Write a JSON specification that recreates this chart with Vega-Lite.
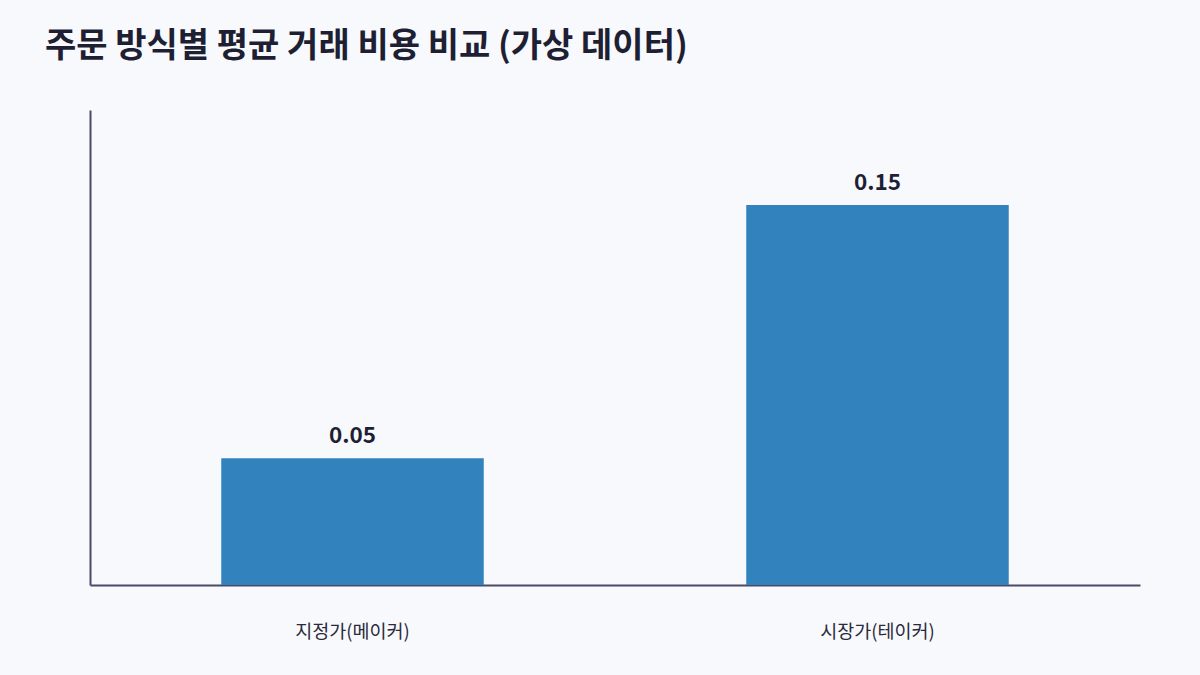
{
  "$schema": "https://vega.github.io/schema/vega-lite/v6.json",
  "width": 1050,
  "height": 475,
  "autosize": {"type": "none"},
  "padding": {"left": 90, "top": 110, "right": 60, "bottom": 90},
  "background": "#f8f9fd",
  "title": {
    "text": "주문 방식별 평균 거래 비용 비교 (가상 데이터)",
    "anchor": "start",
    "frame": "group",
    "dx": -45,
    "offset": 46,
    "font": "Noto Sans CJK KR",
    "fontSize": 34,
    "fontWeight": "bold",
    "color": "#1f1f33"
  },
  "data": {
    "values": [
      {"order_type": "지정가(메이커)", "fee": 0.05},
      {"order_type": "시장가(테이커)", "fee": 0.15}
    ]
  },
  "encoding": {
    "x": {
      "field": "order_type",
      "type": "nominal",
      "sort": null,
      "title": null,
      "scale": {"paddingInner": 0.5, "paddingOuter": 0.25},
      "axis": {
        "labelAngle": 0,
        "ticks": false,
        "labelPadding": 37,
        "labelFont": "Noto Sans CJK KR",
        "labelFontSize": 18.5,
        "labelColor": "#2a2a3a",
        "domainColor": "#4a4a68",
        "domainWidth": 2
      }
    },
    "y": {
      "field": "fee",
      "type": "quantitative",
      "title": null,
      "scale": {"domain": [0, 0.1875], "nice": false},
      "axis": {
        "labels": false,
        "ticks": false,
        "grid": false,
        "domainColor": "#4a4a68",
        "domainWidth": 2
      }
    }
  },
  "layer": [
    {"mark": {"type": "bar", "color": "#3182bd"}},
    {
      "mark": {
        "type": "text",
        "baseline": "bottom",
        "dy": -10,
        "font": "Noto Sans CJK KR",
        "fontSize": 22.5,
        "fontWeight": "bold",
        "color": "#1f1f33"
      },
      "encoding": {"text": {"field": "fee", "type": "quantitative", "format": ".2f"}}
    }
  ],
  "config": {"view": {"stroke": null}}
}
